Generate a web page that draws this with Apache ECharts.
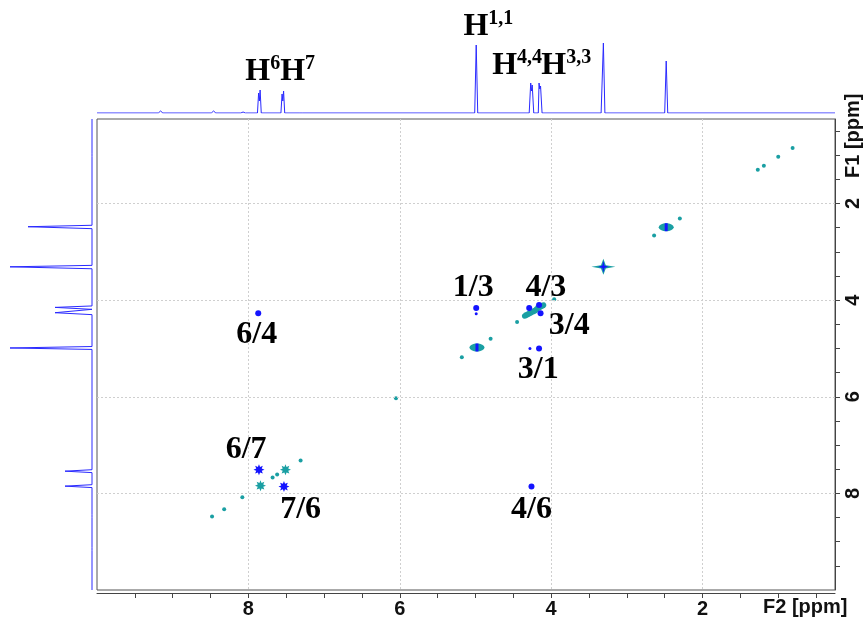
<!DOCTYPE html>
<html>
<head>
<meta charset="utf-8">
<script src="https://cdn.jsdelivr.net/npm/echarts@6/dist/echarts.min.js"></script>
<style>
  html, body { margin: 0; padding: 0; background: #fff; }
  #main { width: 865px; height: 622px; }
</style>
</head>
<body>
<div id="main"></div>
<script>
// 1D projections: [ppm, intensity] (top) and [intensity, ppm] (left)
var topTrace = [
  [10, 0], [9.19, 0], [9.16, 2], [9.13, 0], [8.49, 0], [8.46, 2], [8.43, 0],
  [8.10, 0], [8.07, 1], [8.04, 0], [7.88, 0], [7.865, 20], [7.855, 12], [7.845, 23], [7.83, 0],
  [7.57, 0], [7.555, 19], [7.545, 12], [7.535, 22], [7.52, 0], [7.33, 0], [7.31, 1], [7.29, 0],
  [5.01, 0], [4.99, 68], [4.97, 0], [4.29, 0], [4.27, 30], [4.26, 22], [4.25, 28], [4.23, 0],
  [4.17, 0], [4.16, 30], [4.15, 24], [4.14, 27], [4.12, 0], [3.34, 0], [3.31, 70], [3.29, 0],
  [2.50, 0], [2.48, 52], [2.46, 0], [0.25, 0]
];
var leftTrace = [
  [0, 0.25], [0, 0.97], [2, 1.0], [0, 1.03], [0, 2.45], [64, 2.48], [0, 2.52],
  [0, 3.28], [82, 3.31], [0, 3.35], [0, 4.12], [37, 4.15], [0, 4.19], [0, 4.23], [37, 4.26], [0, 4.30],
  [0, 4.96], [82, 4.99], [0, 5.02], [0, 7.51], [27, 7.54], [0, 7.57], [0, 7.82], [27, 7.85], [0, 7.88],
  [0, 8.44], [2, 8.47], [0, 8.50], [0, 9.12], [2, 9.15], [0, 9.18], [0, 10]
];

// 2D contours: [F2 ppm, F1 ppm]
var diagStar = [[3.31, 3.31]];
var diagOval = [[4.98, 4.98], [2.48, 2.49]];
var diagCluster = [[4.33, 4.31], [4.28, 4.27], [4.22, 4.22], [4.17, 4.16], [4.12, 4.12]];
var diagArom = [[7.84, 7.84], [7.51, 7.51]];
var diagDots = [
  [8.48, 8.48], [8.32, 8.33], [8.08, 8.08], [7.68, 7.67], [7.62, 7.61], [7.31, 7.32],
  [6.05, 6.03], [5.18, 5.18], [4.80, 4.80], [4.45, 4.45], [3.96, 3.98], [2.64, 2.66],
  [2.30, 2.31], [1.27, 1.30], [1.19, 1.22], [1.00, 1.03], [0.81, 0.85]
];
var crossPeaks = [[7.87, 4.27], [4.99, 4.16], [4.16, 5.00], [4.26, 7.86], [4.29, 4.16], [4.14, 4.27], [4.16, 4.10]];
var crossMinor = [[4.99, 4.28], [4.28, 5.00]];
var crossArom = [[7.86, 7.51], [7.53, 7.86]];

// annotations
var peakLabels = [
  [7.89, 4.72, '6/4'], [5.03, 3.75, '1/3'], [4.07, 3.75, '4/3'], [3.76, 4.52, '3/4'],
  [4.17, 5.44, '3/1'], [8.03, 7.09, '6/7'], [7.31, 8.33, '7/6'], [4.26, 8.33, '4/6']
];
var protonLabels = [
  [7.81, 41, '6'], [7.35, 41, '7'], [4.83, 86, '1,1'], [4.45, 47, '4,4'], [3.80, 47, '3,3']
];

var ppmTicks = [0.5, 1, 1.5, 2, 2.5, 3, 3.5, 4, 4.5, 5, 5.5, 6, 6.5, 7, 7.5, 8, 8.5, 9, 9.5];
var ppmLabels = [2, 4, 6, 8];
var gridVals = [2, 4, 6, 8];

var teal = '#1a9fa3';
var blue = '#1414ff';
var starPath = 'path://M0,-10 L2,-2 L10,0 L2,2 L0,10 L-2,2 L-10,0 L-2,-2 Z';
var asterPath = 'path://M0,-10 L2,-5 L7,-7 L5,-2 L10,0 L5,2 L7,7 L2,5 L0,10 L-2,5 L-7,7 L-5,2 L-10,0 L-5,-2 L-7,-7 L-2,-5 Z';

var chart = echarts.init(document.getElementById('main'));

function scatter(data, symbol, size, color, extra) {
  var s = {
    type: 'scatter', xAxisIndex: 0, yAxisIndex: 0, data: data,
    symbol: symbol, symbolSize: size, itemStyle: { color: color, opacity: 1 }, silent: true, z: 3
  };
  for (var k in extra) s[k] = extra[k];
  return s;
}

var axisFont = { fontFamily: 'Liberation Sans', fontWeight: 'bold', fontSize: 20, color: '#111' };

chart.setOption({
  animation: false,
  grid: [
    { left: 97, top: 119, width: 738, height: 471, show: true, borderColor: '#555', borderWidth: 1 },
    { left: 97, top: 13, width: 738, height: 100 },
    { left: 5, top: 119, width: 87, height: 471 }
  ],
  xAxis: [
    {
      gridIndex: 0, type: 'value', min: 0.25, max: 10, inverse: true, position: 'bottom', offset: 3,
      axisLine: { show: true, lineStyle: { color: '#444' } },
      axisTick: { show: true, length: 5, customValues: ppmTicks, lineStyle: { color: '#444' } },
      axisLabel: Object.assign({ customValues: ppmLabels, margin: 6 }, axisFont),
      splitLine: { show: false }
    },
    { gridIndex: 1, type: 'value', min: 0.25, max: 10, inverse: true, show: false },
    { gridIndex: 2, type: 'value', min: 0, max: 87, inverse: true, show: false }
  ],
  yAxis: [
    {
      gridIndex: 0, type: 'value', min: 0.25, max: 10, inverse: true, position: 'right',
      axisLine: { show: true, lineStyle: { color: '#444' } },
      axisTick: { show: true, length: 5, customValues: ppmTicks, lineStyle: { color: '#444' } },
      axisLabel: Object.assign({ customValues: ppmLabels, rotate: 90, margin: 8 }, axisFont),
      splitLine: { show: false }
    },
    { gridIndex: 1, type: 'value', min: 0, max: 100, show: false },
    { gridIndex: 2, type: 'value', min: 0.25, max: 10, inverse: true, show: false }
  ],
  graphic: [
    { type: 'text', left: 763, top: 597, style: { text: 'F2 [ppm]', font: 'bold 20px "Liberation Sans"', fill: '#111' } },
    { type: 'text', x: 843, y: 178, rotation: Math.PI / 2, style: { text: 'F1 [ppm]', font: 'bold 20px "Liberation Sans"', fill: '#111', textBaseline: 'top' } }
  ],
  series: [
    {
      type: 'scatter', xAxisIndex: 0, yAxisIndex: 0, data: [], silent: true,
      markLine: {
        silent: true, symbol: 'none', label: { show: false },
        lineStyle: { color: '#cfcfcf', type: [2, 2], width: 1 },
        data: gridVals.map(function (v) { return { xAxis: v }; })
          .concat(gridVals.map(function (v) { return { yAxis: v }; }))
      }
    },
    {
      type: 'line', xAxisIndex: 1, yAxisIndex: 1, data: topTrace, showSymbol: false, silent: true,
      lineStyle: { color: '#2a2aff', width: 1 }
    },
    {
      type: 'line', xAxisIndex: 2, yAxisIndex: 2, data: leftTrace, showSymbol: false, silent: true,
      lineStyle: { color: '#2a2aff', width: 1 }
    },
    scatter(diagDots, 'circle', 4, teal),
    scatter(diagStar, starPath, [24, 16], teal),
    scatter(diagStar, starPath, [10, 12], blue, { z: 4 }),
    scatter(diagOval, 'circle', [15, 8], teal),
    scatter(diagOval, 'rect', [3, 8], blue, { z: 4 }),
    scatter(diagCluster, 'circle', [9, 6], teal, { symbolRotate: 30 }),
    scatter(diagArom, asterPath, 11, teal),
    scatter(crossPeaks, 'circle', 6, blue, { z: 4 }),
    scatter(crossMinor, 'circle', 3, blue, { z: 4 }),
    scatter(crossArom, asterPath, 11, blue, { z: 4 }),
    {
      type: 'scatter', xAxisIndex: 0, yAxisIndex: 0, symbolSize: 0, silent: true, z: 5,
      itemStyle: { opacity: 1 },
      data: peakLabels.map(function (d) { return { value: [d[0], d[1]], name: d[2] }; }),
      label: {
        show: true, position: 'inside', formatter: '{b}', opacity: 1,
        fontFamily: 'Liberation Serif', fontWeight: 'bold', fontSize: 32, color: '#000'
      }
    },
    {
      type: 'scatter', xAxisIndex: 1, yAxisIndex: 1, symbolSize: 0, silent: true, z: 5,
      itemStyle: { opacity: 1 },
      data: protonLabels.map(function (d) { return { value: [d[0], d[1]], name: d[2] }; }),
      label: {
        show: true, position: 'inside', opacity: 1,
        formatter: function (p) { return '{h|H}{s|' + p.name + '}'; },
        rich: {
          h: { fontFamily: 'Liberation Serif', fontWeight: 'bold', fontSize: 32, color: '#000' },
          s: { fontFamily: 'Liberation Serif', fontWeight: 'bold', fontSize: 20, color: '#000', padding: [0, 0, 16, 0] }
        }
      }
    }
  ]
});
</script>
</body>
</html>
